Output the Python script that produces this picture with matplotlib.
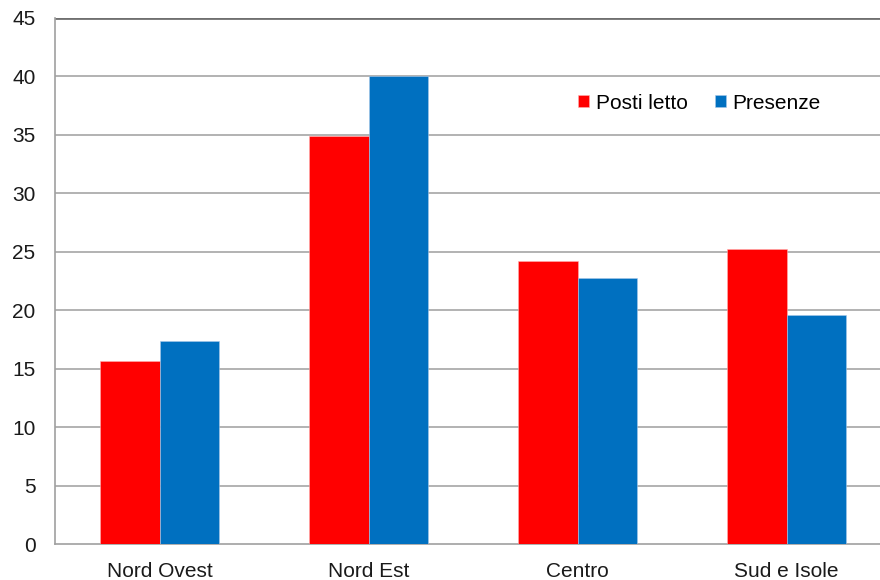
import numpy as np
import matplotlib.pyplot as plt

plt.rcParams['font.family'] = ['Liberation Sans', 'DejaVu Sans']

# Quote per ripartizione (%)
regioni = ['Nord Ovest', 'Nord Est', 'Centro', 'Sud e Isole']
posti_letto = [15.7, 34.9, 24.2, 25.2]
presenze = [17.4, 40.0, 22.8, 19.6]
y_ticks = [0, 5, 10, 15, 20, 25, 30, 35, 40, 45]

fig = plt.figure(figsize=(8.8, 5.8), dpi=100)
ax = fig.add_axes([0.0625, 0.062, 0.95, 0.907])

x = np.arange(len(regioni))
w = 0.287
ax.bar(x - w / 2, posti_letto, w, color='#ff0000', edgecolor='#ffb0b0',
       linewidth=0.4, label='Posti letto', zorder=3)
ax.bar(x + w / 2, presenze, w, color='#0070c0', edgecolor='#a8c8e8',
       linewidth=0.4, label='Presenze', zorder=3)

ax.set_xlim(-0.5, 3.5)
ax.set_ylim(0, 45)
ax.set_yticks(y_ticks)
ax.set_xticks(x)
ax.set_xticklabels(regioni)
ax.tick_params(axis='both', labelsize=15, colors='#1a1a1a', length=0)
ax.tick_params(axis='x', pad=13)
ax.tick_params(axis='y', pad=14)

for t in y_ticks[1:-1]:
    ax.axhline(t, color='#a6a6a6', linewidth=1.2, zorder=1)
ax.axhline(45, color='#707070', linewidth=2, zorder=1)

for side in ['top', 'right']:
    ax.spines[side].set_visible(False)
ax.spines['left'].set_color('#a0a0a0')
ax.spines['bottom'].set_color('#a0a0a0')
ax.spines['left'].set_linewidth(1.2)
ax.spines['bottom'].set_linewidth(1.2)

ax.legend(loc='upper left', bbox_to_anchor=(0.603, 0.892), ncol=2, frameon=False,
          fontsize=15, handlelength=0.55, handleheight=0.55, handletextpad=0.3,
          columnspacing=1.3)

plt.savefig('out.png', dpi=100)
